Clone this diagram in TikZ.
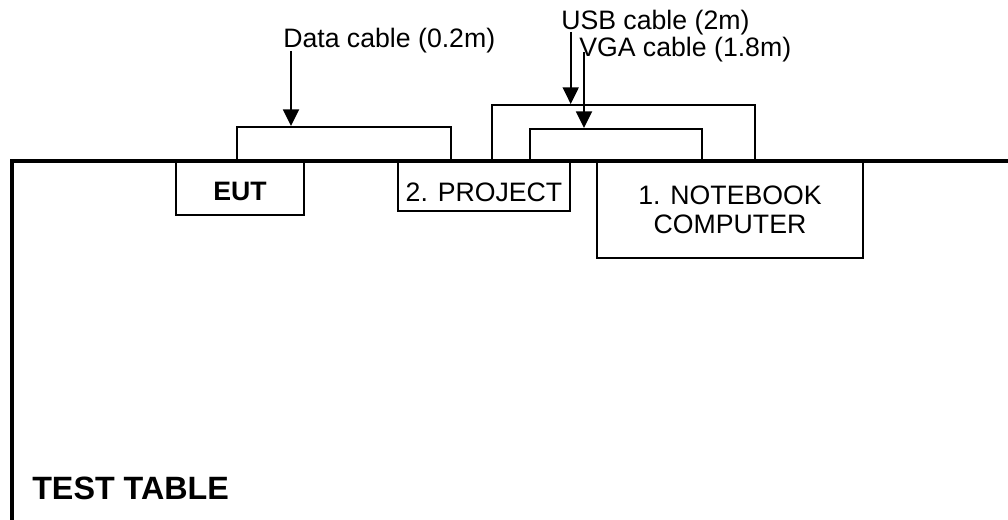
\documentclass[tikz,border=0pt]{standalone}
\usepackage{fontspec}
\setmainfont{Liberation Sans}
\usetikzlibrary{arrows.meta}
\begin{document}
\begin{tikzpicture}[x=0.75pt,y=-0.75pt,
  txt/.style={font=\fontsize{20}{22.5}\selectfont},
  dev/.style={draw, line width=1.4pt, inner sep=0, txt, align=center},
  lbl/.style={inner sep=0, anchor=base west, txt},
  cable/.style={line width=1.4pt},
  pointer/.style={line width=1.4pt, -{Triangle[length=12.5pt,width=12pt]}},
  tableedge/.style={line width=3pt}]
\useasboundingbox (0,0) rectangle (1008,520);

% devices on the table
\node[dev, minimum width=96pt, minimum height=40.5pt, text height=19.5pt] (eut) at (240,188) {\textbf{EUT}};
\node[dev, minimum width=129pt, minimum height=37.5pt, text height=23pt] (proj) at (484,186) {2. PROJECT};
\node[dev, minimum width=199.5pt, minimum height=72.75pt] (nb) at (730,209.5) {1. NOTEBOOK\\[-0.5pt]COMPUTER};

% cables
\draw[cable] ([xshift=-2.25pt]eut.north) |- (344,127) -| ([xshift=-24.75pt]proj.north);
\draw[cable] ([xshift=6pt]proj.north) |- (620,105) -| ([xshift=18.75pt]nb.north);
\draw[cable] ([xshift=34.5pt]proj.north) |- (620,129) -| ([xshift=-21pt]nb.north);

% table edge
\draw[tableedge] (12,530) |- (1020,161);
\node[inner sep=0, anchor=base west, font=\fontsize{24.2}{27}\selectfont\bfseries] (tbl) at (32,500) {TEST TABLE};

% cable labels
\node[lbl] (datalbl) at (283,48) {Data cable (0.2m)};
\node[lbl] (usblbl) at (561,30) {USB cable (2m)};
\node[lbl] (vgalbl) at (579,57) {VGA cable (1.8m)};

\coordinate (dataTop) at (291,51);
\coordinate (dataHit) at (291,126);
\coordinate (usbTop) at (570.7,32);
\coordinate (usbHit) at (570.7,104);
\coordinate (vgaTop) at (584,52);
\coordinate (vgaHit) at (584,128);

\draw[pointer] (dataTop) -- (dataHit);
\draw[pointer] (usbTop) -- (usbHit);
\draw[pointer] (vgaTop) -- (vgaHit);
\end{tikzpicture}
\end{document}
